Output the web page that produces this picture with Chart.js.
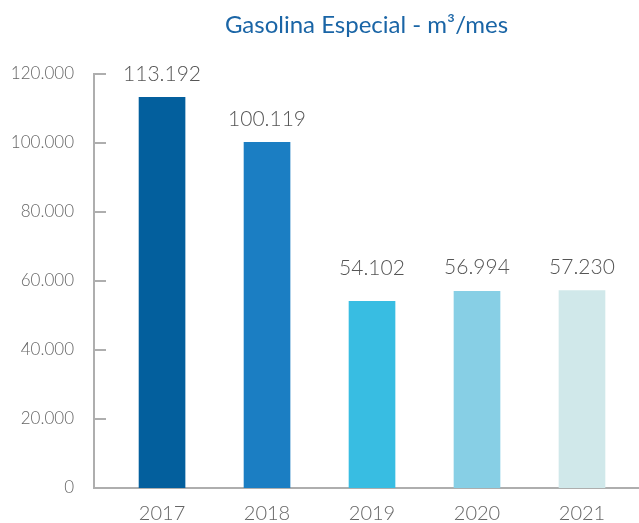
<!DOCTYPE html>
<html>
<head>
<meta charset="utf-8">
<script src="https://cdn.jsdelivr.net/npm/chart.js@4.4.0/dist/chart.umd.min.js"></script>
<style>
  html, body { margin: 0; padding: 0; background: #fff; }
  #wrap { width: 639px; height: 523px; }
</style>
</head>
<body>
<div id="wrap"><canvas id="myChart" width="639" height="523"></canvas></div>
<script>
// datos
const years = [2017, 2018, 2019, 2020, 2021];
const volumes = [113192, 100119, 54102, 56994, 57230];
const barColors = ['#035f9d', '#1b7ec3', '#38bde2', '#87cfe5', '#d0e8ea'];
const yTicks = [0, 20000, 40000, 60000, 80000, 100000, 120000];
const titleText = 'Gasolina Especial - m³/mes';

const fontFamily = 'Lato, "Open Sans", sans-serif';
const axisColor = '#aeaeae';

function fmt(v) {
  return String(v).replace(/\B(?=(\d{3})+(?!\d))/g, '.');
}

// marcas cortas hacia dentro del eje Y
const innerTicks = {
  id: 'innerTicks',
  afterDraw(chart) {
    const ctx = chart.ctx;
    const y = chart.scales.y;
    const left = chart.chartArea.left;
    ctx.save();
    ctx.strokeStyle = axisColor;
    ctx.lineWidth = 2;
    y.ticks.forEach((t) => {
      if (t.value === 0) return;
      const py = Math.round(y.getPixelForValue(t.value));
      ctx.beginPath();
      ctx.moveTo(left, py);
      ctx.lineTo(left + 12, py);
      ctx.stroke();
    });
    ctx.restore();
  }
};

// valores encima de cada barra
const valueLabels = {
  id: 'valueLabels',
  afterDatasetsDraw(chart) {
    const ctx = chart.ctx;
    const meta = chart.getDatasetMeta(0);
    const ys = meta.data.map((bar) => bar.y - 23);
    // alinear etiquetas vecinas que quedan casi a la misma altura
    for (let i = 0; i < ys.length; i++) {
      for (let j = 0; j < ys.length; j++) {
        if (Math.abs(i - j) === 1 && ys[j] < ys[i] && ys[i] - ys[j] < 15) ys[i] = ys[j];
      }
    }
    ctx.save();
    ctx.font = '300 21px ' + fontFamily;
    ctx.fillStyle = '#555555';
    ctx.textAlign = 'center';
    ctx.textBaseline = 'middle';
    meta.data.forEach((bar, i) => {
      ctx.fillText(fmt(volumes[i]), bar.x, ys[i]);
    });
    ctx.restore();
  }
};

const ctx = document.getElementById('myChart').getContext('2d');
const myChart = new Chart(ctx, {
  type: 'bar',
  data: {
    datasets: [{
      data: years.map((yr, i) => ({ x: yr, y: volumes[i] })),
      backgroundColor: barColors,
      barThickness: 46,
      borderWidth: 0
    }]
  },
  options: {
    responsive: false,
    animation: false,
    layout: { padding: { top: 0, right: 0, bottom: 0, left: 0 } },
    plugins: {
      legend: { display: false },
      tooltip: { enabled: false },
      title: {
        display: true,
        text: titleText,
        color: '#1a65a6',
        fullSize: false,
        font: { family: fontFamily, size: 24, weight: 'normal' },
        padding: { top: 11, bottom: 34 }
      }
    },
    scales: {
      x: {
        type: 'linear',
        offset: false,
        min: 2016.352,
        max: 2021.543,
        afterBuildTicks: (scale) => { scale.ticks = years.map((v) => ({ value: v })); },
        afterFit: (scale) => { scale.height = 35; },
        grid: { display: false, drawTicks: false, offset: false },
        border: { display: true, color: axisColor, width: 2 },
        ticks: {
          autoSkip: false,
          padding: 16,
          color: '#666666',
          font: { family: fontFamily, size: 20, weight: '300', lineHeight: 1 },
          callback: (v) => String(v)
        }
      },
      y: {
        min: 0,
        max: 120000,
        afterBuildTicks: (scale) => { scale.ticks = yTicks.map((v) => ({ value: v })); },
        afterFit: (scale) => { scale.width = 94; },
        grid: { display: false, drawTicks: false },
        border: { display: true, color: axisColor, width: 2 },
        ticks: {
          padding: 20,
          color: '#666666',
          font: { family: fontFamily, size: 17, weight: '300' },
          callback: (v) => fmt(v)
        }
      }
    }
  },
  plugins: [innerTicks, valueLabels]
});
</script>
</body>
</html>
